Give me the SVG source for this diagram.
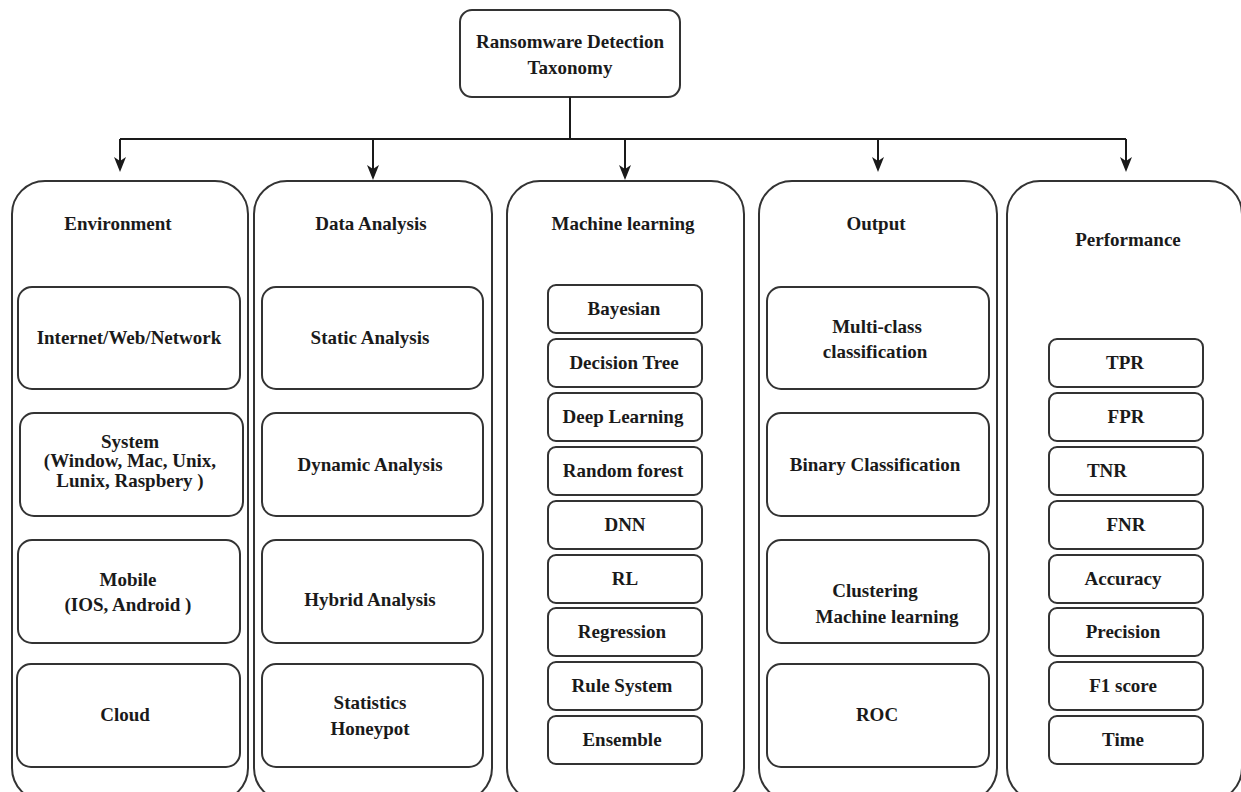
<svg xmlns="http://www.w3.org/2000/svg" width="1241" height="792" viewBox="0 0 1241 792">
  <defs>
    <marker id="arrow" viewBox="0 0 15 12" markerWidth="15" markerHeight="12" refX="11" refY="6" orient="auto" markerUnits="userSpaceOnUse">
      <path d="M0,0 L15,6 L0,12 L4,6 Z" fill="#1a1a1a"/>
    </marker>
    <style>
      .col { fill: #ffffff; stroke: #333333; stroke-width: 2; }
      .box { fill: #ffffff; stroke: #333333; stroke-width: 2; }
      .edge { fill: none; stroke: #1a1a1a; stroke-width: 2; }
      text { font-family: "Liberation Serif", "Times New Roman", serif; font-weight: bold; font-size: 19px; fill: #1a1a1a; text-anchor: middle; }
    </style>
  </defs>

  <rect width="1241" height="792" fill="#ffffff"/>

  <!-- root -->
  <g id="root">
    <rect class="box" x="460" y="10" width="220" height="87" rx="12"/>
    <text x="570" y="48">Ransomware Detection</text>
    <text x="570" y="74">Taxonomy</text>
  </g>

  <!-- connectors -->
  <g id="connectors">
    <path class="edge" d="M570,97 V139 M120,139 H1126"/>
    <line class="edge" x1="120" y1="139" x2="120" y2="168" marker-end="url(#arrow)"/>
    <line class="edge" x1="373" y1="139" x2="373" y2="176" marker-end="url(#arrow)"/>
    <line class="edge" x1="625" y1="139" x2="625" y2="176" marker-end="url(#arrow)"/>
    <line class="edge" x1="878" y1="139" x2="878" y2="168" marker-end="url(#arrow)"/>
    <line class="edge" x1="1126" y1="139" x2="1126" y2="168" marker-end="url(#arrow)"/>
  </g>

  <!-- Environment -->
  <g id="environment">
    <rect class="col" x="12" y="181" width="236" height="620" rx="33"/>
    <text x="118" y="230">Environment</text>
    <rect class="box" x="18" y="287" width="222" height="102" rx="14"/>
    <text x="129" y="344">Internet/Web/Network</text>
    <rect class="box" x="20" y="413" width="223" height="103" rx="14"/>
    <text x="130" y="448">System</text>
    <text x="130" y="467">(Window, Mac, Unix,</text>
    <text x="130" y="487">Lunix, Raspbery )</text>
    <rect class="box" x="18" y="540" width="222" height="103" rx="14"/>
    <text x="128" y="586">Mobile</text>
    <text x="128" y="611">(IOS, Android )</text>
    <rect class="box" x="17" y="664" width="223" height="103" rx="14"/>
    <text x="125" y="721">Cloud</text>
  </g>

  <!-- Data Analysis -->
  <g id="data-analysis">
    <rect class="col" x="254" y="181" width="238" height="620" rx="33"/>
    <text x="371" y="230">Data Analysis</text>
    <rect class="box" x="262" y="287" width="221" height="102" rx="14"/>
    <text x="370" y="344">Static Analysis</text>
    <rect class="box" x="262" y="413" width="221" height="103" rx="14"/>
    <text x="370" y="471">Dynamic Analysis</text>
    <rect class="box" x="262" y="540" width="221" height="103" rx="14"/>
    <text x="370" y="606">Hybrid Analysis</text>
    <rect class="box" x="262" y="664" width="221" height="103" rx="14"/>
    <text x="370" y="709">Statistics</text>
    <text x="370" y="735">Honeypot</text>
  </g>

  <!-- Machine learning -->
  <g id="machine-learning">
    <rect class="col" x="507" y="181" width="237" height="620" rx="33"/>
    <text x="623" y="230">Machine learning</text>
    <rect class="box" x="548" y="285" width="154" height="48" rx="8"/>
    <text x="624" y="315">Bayesian</text>
    <rect class="box" x="548" y="339" width="154" height="48" rx="8"/>
    <text x="624" y="369">Decision Tree</text>
    <rect class="box" x="548" y="393" width="154" height="48" rx="8"/>
    <text x="623" y="423">Deep Learning</text>
    <rect class="box" x="548" y="447" width="154" height="48" rx="8"/>
    <text x="623" y="477">Random forest</text>
    <rect class="box" x="548" y="501" width="154" height="48" rx="8"/>
    <text x="625" y="531">DNN</text>
    <rect class="box" x="548" y="555" width="154" height="48" rx="8"/>
    <text x="625" y="585">RL</text>
    <rect class="box" x="548" y="608" width="154" height="48" rx="8"/>
    <text x="622" y="638">Regression</text>
    <rect class="box" x="548" y="662" width="154" height="48" rx="8"/>
    <text x="622" y="692">Rule System</text>
    <rect class="box" x="548" y="716" width="154" height="48" rx="8"/>
    <text x="622" y="746">Ensemble</text>
  </g>

  <!-- Output -->
  <g id="output">
    <rect class="col" x="759" y="181" width="238" height="620" rx="33"/>
    <text x="876" y="230">Output</text>
    <rect class="box" x="767" y="287" width="222" height="102" rx="14"/>
    <text x="877" y="333">Multi-class</text>
    <text x="875" y="358">classification</text>
    <rect class="box" x="767" y="413" width="222" height="103" rx="14"/>
    <text x="875" y="471">Binary Classification</text>
    <rect class="box" x="767" y="540" width="222" height="103" rx="14"/>
    <text x="875" y="597">Clustering</text>
    <text x="887" y="623">Machine learning</text>
    <rect class="box" x="767" y="664" width="222" height="103" rx="14"/>
    <text x="877" y="721">ROC</text>
  </g>

  <!-- Performance -->
  <g id="performance">
    <rect class="col" x="1007" y="181" width="235" height="620" rx="33"/>
    <text x="1128" y="246">Performance</text>
    <rect class="box" x="1049" y="339" width="154" height="48" rx="8"/>
    <text x="1125" y="369">TPR</text>
    <rect class="box" x="1049" y="393" width="154" height="48" rx="8"/>
    <text x="1126" y="423">FPR</text>
    <rect class="box" x="1049" y="447" width="154" height="48" rx="8"/>
    <text x="1107" y="477">TNR</text>
    <rect class="box" x="1049" y="501" width="154" height="48" rx="8"/>
    <text x="1126" y="531">FNR</text>
    <rect class="box" x="1049" y="555" width="154" height="48" rx="8"/>
    <text x="1123" y="585">Accuracy</text>
    <rect class="box" x="1049" y="608" width="154" height="48" rx="8"/>
    <text x="1123" y="638">Precision</text>
    <rect class="box" x="1049" y="662" width="154" height="48" rx="8"/>
    <text x="1123" y="692">F1 score</text>
    <rect class="box" x="1049" y="716" width="154" height="48" rx="8"/>
    <text x="1123" y="746">Time</text>
  </g>
</svg>
